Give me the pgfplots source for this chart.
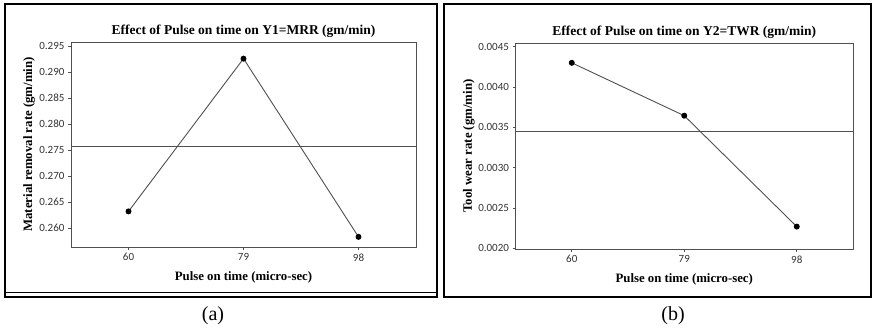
\documentclass[border=0pt]{standalone}
\usepackage{pgfplots}
\pgfplotsset{compat=1.18}
\usepackage{fontspec}
\setmainfont{Liberation Serif}
\newfontfamily\tickfont{Carlito}
\definecolor{lgray}{HTML}{505050}
\definecolor{tgray}{HTML}{333333}
\pgfplotsset{
  mainfx/.style={
    scale only axis,
    xmin=-0.5, xmax=2.5,
    xtick={0,1,2}, xticklabels={60,79,98},
    axis line style={lgray, line width=0.8pt},
    tick style={lgray, line width=0.6pt},
    tick align=outside, major tick length=3pt,
    xtick pos=bottom, ytick pos=left,
    tick label style={font=\tickfont\fontsize{11}{11}\selectfont, text=tgray},
    /pgf/number format/assume math mode=true,
    title style={font=\bfseries\fontsize{13.5}{13.5}\selectfont, at={(axis description cs:0.5,1)}, anchor=south, yshift=-5pt},
    label style={font=\bfseries\fontsize{12.8}{12.8}\selectfont},
    xlabel style={at={(axis description cs:0.5,0)}, anchor=north, yshift=-21pt},
  }
}
\begin{document}
\begin{tikzpicture}
\path[use as bounding box] (0,0) rectangle (874pt,331pt);
% frames
\draw[line width=2pt] (5pt,327pt) rectangle (437pt,34pt);
\draw[line width=0.8pt] (5pt,39pt) -- (437pt,39pt);
\draw[line width=2.5pt] (444pt,327pt) rectangle (871pt,34pt);
\node[font=\fontsize{20}{20}\selectfont] at (213pt,15pt) {(a)};
\node[font=\fontsize{20}{20}\selectfont] at (673pt,15pt) {(b)};
\begin{axis}[mainfx,
  at={(71pt,84pt)}, anchor=south west,
  width=345pt, height=205pt,
  ymin=0.25635, ymax=0.2958,
  ytick={0.260,0.265,0.270,0.275,0.280,0.285,0.290,0.295},
  yticklabel style={/pgf/number format/.cd, fixed, fixed zerofill, precision=3},
  title={Effect of Pulse on time on Y1=MRR (gm/min)},
  xlabel={Pulse on time (micro-sec)},
  ylabel={Material removal rate (gm/min)},
  ylabel style={at={(axis description cs:-0.1217,0.5)}, anchor=center},
]
\addplot[lgray, line width=0.8pt, forget plot] coordinates {(-0.5,0.2757) (2.5,0.2757)};
\addplot[lgray, line width=0.9pt, mark=*, mark size=2.5pt, mark options={black, fill=black}] coordinates {(0,0.2632) (1,0.2926) (2,0.2583)};
\end{axis}
\begin{axis}[mainfx,
  at={(515.5pt,82pt)}, anchor=south west,
  width=337.5pt, height=206pt,
  ymin=0.00199, ymax=0.004546,
  ytick={0.0020,0.0025,0.0030,0.0035,0.0040,0.0045},
  yticklabel style={/pgf/number format/.cd, fixed, fixed zerofill, precision=4},
  scaled y ticks=false,
  title={Effect of Pulse on time on Y2=TWR (gm/min)},
  xlabel={Pulse on time (micro-sec)},
  ylabel={Tool wear rate (gm/min)},
  ylabel style={at={(axis description cs:-0.138,0.5)}, anchor=center},
]
\addplot[lgray, line width=0.8pt, forget plot] coordinates {(-0.5,0.003454) (2.5,0.003454)};
\addplot[lgray, line width=0.9pt, mark=*, mark size=2.5pt, mark options={black, fill=black}] coordinates {(0,0.00430) (1,0.003644) (2,0.002268)};
\end{axis}
\end{tikzpicture}
\end{document}
